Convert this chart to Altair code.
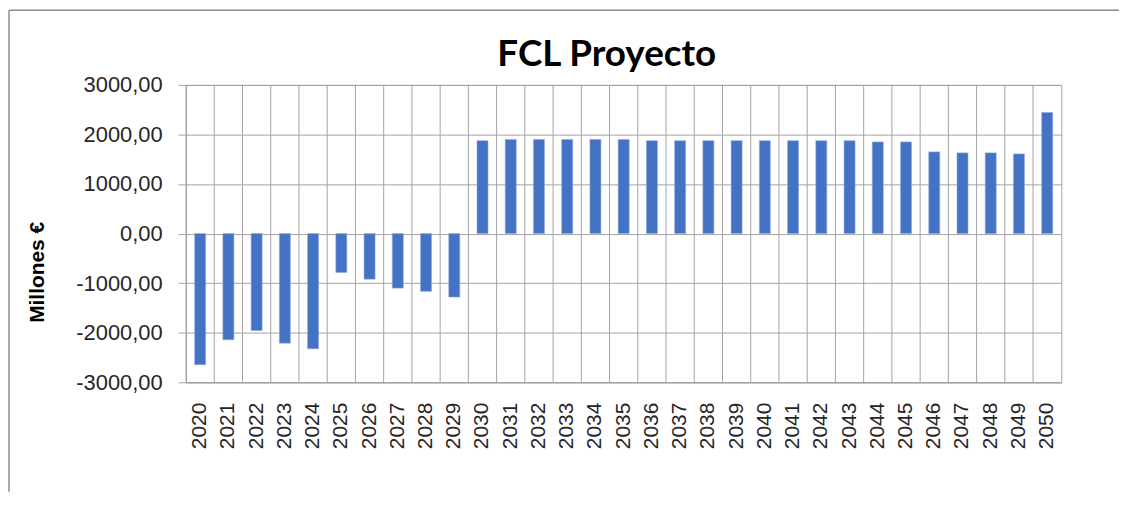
import altair as alt
import pandas as pd

years = ["2020", "2021", "2022", "2023", "2024", "2025", "2026", "2027", "2028", "2029",
         "2030", "2031", "2032", "2033", "2034", "2035", "2036", "2037", "2038", "2039",
         "2040", "2041", "2042", "2043", "2044", "2045", "2046", "2047", "2048", "2049", "2050"]
values = [-2645, -2140, -1955, -2210, -2325, -785, -920, -1100, -1165, -1280,
          1875, 1900, 1900, 1900, 1900, 1900, 1875, 1875, 1875, 1875,
          1875, 1875, 1875, 1875, 1850, 1850, 1648, 1628, 1628, 1607, 2445]
y_ticks = [-3000, -2000, -1000, 0, 1000, 2000, 3000]
title_text = "FCL Proyecto"

df = pd.DataFrame({"year": years, "value": values})

W, H = 880, 299
STEP = W / len(years)
GRID = "#a3a3a3"
FONT = "Liberation Sans"
PAD_L, PAD_T, PAD_R, PAD_B = 179, 76, 58, 110

xscale = alt.Scale(domain=years, paddingInner=0.61, paddingOuter=0.305)
yscale = alt.Scale(domain=[-3000, 3000], nice=False)

xaxis = alt.Axis(title=None, labelAngle=270, ticks=False, labelPadding=20,
                 labelFont=FONT, labelFontSize=21, labelColor="#262626",
                 domainColor=GRID, grid=False)

base = alt.Chart(df)

vgrid = base.mark_rule(color=GRID, strokeWidth=1, xOffset=-STEP / 2).encode(
    x=alt.X("year:N", scale=xscale, sort=years, axis=xaxis),
    y=alt.value(0),
    y2=alt.value(H),
)

bars = base.mark_bar(color="#4472C4", stroke="#8fa9dc", strokeWidth=0.6).encode(
    x=alt.X("year:N", scale=xscale, sort=years, axis=xaxis),
    y=alt.Y("value:Q", scale=yscale,
            axis=alt.Axis(values=y_ticks, title="Millones  €",
                          labelExpr="(datum.value < 0 ? '-' : '') + replace(format(abs(datum.value), '.2f'), '.', ',')",
                          labelFont=FONT, labelFontSize=22, labelColor="#262626",
                          labelPadding=16, tickSize=8, tickColor=GRID, domainColor=GRID,
                          gridColor=GRID, gridWidth=1,
                          titleFont=FONT, titleFontSize=21, titleFontWeight="bold",
                          titleColor="#000000", titleAngle=270, titleX=-149, titleY=188,
                          titleAlign="center", titleBaseline="middle")),
)

title_df = pd.DataFrame({"t": [title_text]})
title = alt.Chart(title_df).mark_text(font="Lato", fontSize=37, fontWeight="bold",
                                      color="#000000", align="center",
                                      baseline="alphabetic").encode(
    text="t:N", x=alt.value(W / 2 - 17), y=alt.value(-19),
)

frame_top = alt.Chart(title_df).mark_rule(color="#8c8c8c", strokeWidth=1.5).encode(
    x=alt.value(-PAD_L + 1), x2=alt.value(W + PAD_R), y=alt.value(-PAD_T + 1),
)
frame_left = alt.Chart(title_df).mark_rule(color="#8c8c8c", strokeWidth=1.5).encode(
    x=alt.value(-PAD_L + 1), y=alt.value(-PAD_T + 1), y2=alt.value(H + PAD_B),
)

chart = alt.layer(vgrid, bars, title, frame_top, frame_left).properties(
    width=W, height=H,
    autosize=alt.AutoSizeParams(type="none"),
    padding={"left": PAD_L, "top": PAD_T, "right": PAD_R, "bottom": PAD_B},
).configure_view(stroke=GRID, strokeWidth=1)

chart.save("out.html", embed_options={"renderer": "svg", "actions": False})
